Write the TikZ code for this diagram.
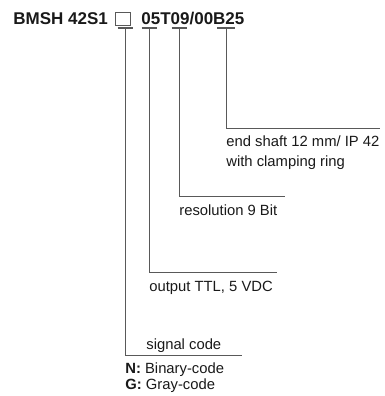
\documentclass[tikz,border=0pt]{standalone}
\usepackage{fontspec}
\setmainfont{Liberation Sans}
\begin{document}
\begin{tikzpicture}[x=1pt, y=-1pt, line width=0.75pt, draw=black!65,
    every node/.style={inner sep=0pt, anchor=base west, text=black!90,
    font=\fontsize{14.8}{18}\selectfont},
    title/.style={font=\fontsize{17}{20}\selectfont\bfseries},
    bar/.style={line width=1.5pt}]
  \useasboundingbox (0,0) rectangle (385,396);
  \node[title] (type) at (13,25) {BMSH 42S1};
  \node[draw=black!65, anchor=north west, minimum width=15pt, minimum height=13pt] (box) at (115,12) {};
  \node[title] (code) at (141,25) {05T09/00B25};
  % bars under the code
  \coordinate (s1) at (125,28);
  \coordinate (s2) at (149,28);
  \coordinate (s3) at (179,28);
  \coordinate (s4) at (226,28);
  \draw[bar] ([xshift=-7.5pt]s1) -- ([xshift=7.5pt]s1);
  \draw[bar] ([xshift=-7.5pt]s2) -- ([xshift=7.5pt]s2);
  \draw[bar] ([xshift=-7.5pt]s3) -- ([xshift=7.5pt]s3);
  \draw[bar] ([xshift=-9pt]s4) -- ([xshift=9pt]s4);
  % line ends
  \coordinate (e1) at (242,355);
  \coordinate (e2) at (277,272);
  \coordinate (e3) at (285,196);
  \coordinate (e4) at (380,128);
  \draw (s1) |- (e1);
  \draw (s2) |- (e2);
  \draw (s3) |- (e3);
  \draw (s4) |- (e4);
  \node (shaft) at (226,146) {end shaft 12 mm/ IP 42};
  \node (ring) at (226,166) {with clamping ring};
  \node (res) at (179,215) {resolution 9 Bit};
  \node (out) at (149,291) {output TTL, 5 VDC};
  \node (signal) at (146,349) {signal code};
  \node (bin) at (125,373) {\textbf{N:} Binary-code};
  \node (gray) at (125,389) {\textbf{G:} Gray-code};
\end{tikzpicture}
\end{document}
